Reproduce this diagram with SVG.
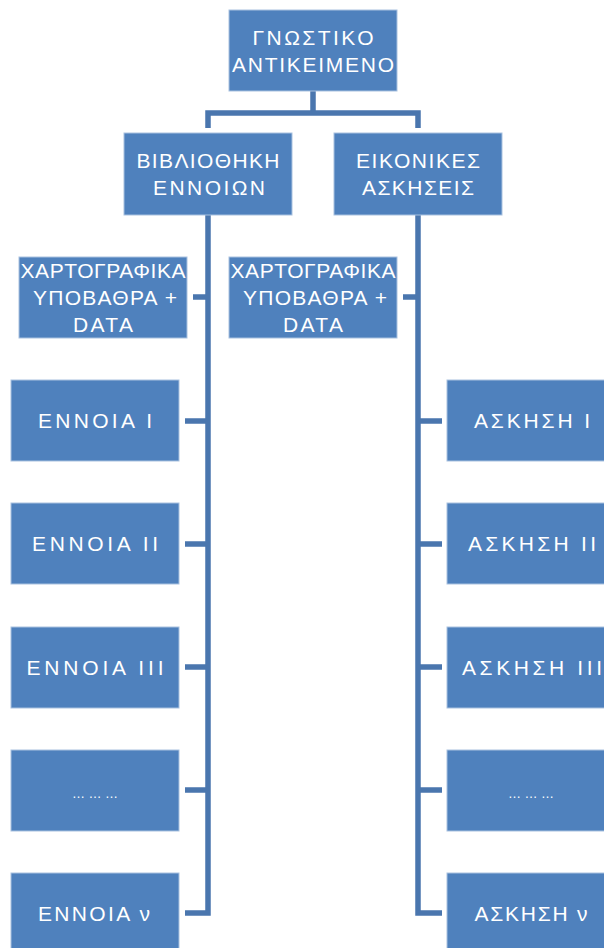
<svg xmlns="http://www.w3.org/2000/svg" width="604" height="948" viewBox="0 0 604 948">
<style>
.box{fill:#4F81BD;stroke:#A9C1DF;stroke-width:1}
.t{font-family:"Liberation Sans","DejaVu Sans",sans-serif;font-size:21px;fill:#FFFFFF;text-anchor:middle}
.dots{font-family:"Liberation Sans","DejaVu Sans",sans-serif;font-size:13px;fill:#FFFFFF;text-anchor:middle}
.c{fill:none;stroke:#4A76AE;stroke-width:5.5;stroke-linejoin:miter;stroke-linecap:butt}
</style>
<rect width="604" height="948" fill="#FFFFFF"/>
<g id="connectors">
<path class="c" d="M313,91 V113 M208,128 V113 H418 V128"/>
<path class="c" d="M208,215 V913 H185 M193,297 H208 M185,421 H208 M185,544 H208 M185,667 H208 M185,790 H208"/>
<path class="c" d="M418,215 V913 H442 M403,297 H418 M442,421 H418 M442,544 H418 M442,667 H418 M442,790 H418"/>
</g>
<g id="gnostiko">
<rect class="box" x="229" y="10" width="168" height="81"/>
<text class="t" x="313" y="45" textLength="121" lengthAdjust="spacing">ΓΝΩΣΤΙΚΟ</text>
<text class="t" x="313" y="72" textLength="162" lengthAdjust="spacing">ΑΝΤΙΚΕΙΜΕΝΟ</text>
</g>
<g id="vivliothiki">
<rect class="box" x="124" y="133" width="168" height="82"/>
<text class="t" x="208" y="168" textLength="143" lengthAdjust="spacing">ΒΙΒΛΙΟΘΗΚΗ</text>
<text class="t" x="209" y="195" textLength="112" lengthAdjust="spacing">ΕΝΝΟΙΩΝ</text>
</g>
<g id="eikonikes">
<rect class="box" x="334" y="133" width="168" height="82"/>
<text class="t" x="418" y="168" textLength="124" lengthAdjust="spacing">ΕΙΚΟΝΙΚΕΣ</text>
<text class="t" x="418" y="195" textLength="112" lengthAdjust="spacing">ΑΣΚΗΣΕΙΣ</text>
</g>
<g id="xartografika1">
<rect class="box" x="19" y="257" width="168" height="81"/>
<text class="t" x="103" y="278" textLength="165" lengthAdjust="spacing">ΧΑΡΤΟΓΡΑΦΙΚΑ</text>
<text class="t" x="105" y="305" textLength="144" lengthAdjust="spacing">ΥΠΟΒΑΘΡΑ +</text>
<text class="t" x="103" y="332" textLength="60" lengthAdjust="spacing">DATA</text>
</g>
<g id="xartografika2">
<rect class="box" x="229" y="257" width="168" height="81"/>
<text class="t" x="313" y="278" textLength="165" lengthAdjust="spacing">ΧΑΡΤΟΓΡΑΦΙΚΑ</text>
<text class="t" x="315" y="305" textLength="144" lengthAdjust="spacing">ΥΠΟΒΑΘΡΑ +</text>
<text class="t" x="313" y="332" textLength="60" lengthAdjust="spacing">DATA</text>
</g>
<g id="ennoia1">
<rect class="box" x="11" y="380" width="168" height="81"/>
<text class="t" x="95" y="428" textLength="114" lengthAdjust="spacing">ΕΝΝΟΙΑ I</text>
</g>
<g id="ennoia2">
<rect class="box" x="11" y="503" width="168" height="81"/>
<text class="t" x="95" y="551" textLength="126" lengthAdjust="spacing">ΕΝΝΟΙΑ II</text>
</g>
<g id="ennoia3">
<rect class="box" x="11" y="627" width="168" height="81"/>
<text class="t" x="95" y="675" textLength="137" lengthAdjust="spacing">ΕΝΝΟΙΑ III</text>
</g>
<g id="ennoia-dots">
<rect class="box" x="11" y="750" width="168" height="81"/>
<text class="dots" x="95" y="798">… … …</text>
</g>
<g id="ennoia-n">
<rect class="box" x="11" y="873" width="168" height="81"/>
<text class="t" x="94" y="921" textLength="112" lengthAdjust="spacing">ΕΝΝΟΙΑ ν</text>
</g>
<g id="askisi1">
<rect class="box" x="447" y="380" width="168" height="81"/>
<text class="t" x="532" y="428" textLength="116" lengthAdjust="spacing">ΑΣΚΗΣΗ I</text>
</g>
<g id="askisi2">
<rect class="box" x="447" y="503" width="168" height="81"/>
<text class="t" x="532" y="551" textLength="128" lengthAdjust="spacing">ΑΣΚΗΣΗ II</text>
</g>
<g id="askisi3">
<rect class="box" x="447" y="627" width="168" height="81"/>
<text class="t" x="532" y="675" textLength="140" lengthAdjust="spacing">ΑΣΚΗΣΗ III</text>
</g>
<g id="askisi-dots">
<rect class="box" x="447" y="750" width="168" height="81"/>
<text class="dots" x="531" y="798">… … …</text>
</g>
<g id="askisi-n">
<rect class="box" x="447" y="873" width="168" height="81"/>
<text class="t" x="531" y="921" textLength="113" lengthAdjust="spacing">ΑΣΚΗΣΗ ν</text>
</g>
</svg>
